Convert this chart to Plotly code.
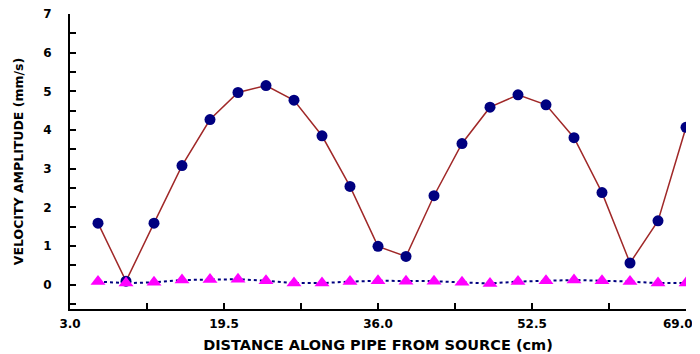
import plotly.graph_objects as go

distance = [6, 9, 12, 15, 18, 21, 24, 27, 30, 33, 36, 39, 42, 45, 48, 51, 54, 57, 60, 63, 66, 69]
amp_circle = [1.59, 0.09, 1.59, 3.08, 4.27, 4.97, 5.15, 4.77, 3.85, 2.54, 0.99, 0.73,
              2.30, 3.65, 4.59, 4.91, 4.65, 3.80, 2.38, 0.56, 1.65, 4.07]
amp_triangle = [0.08, 0.04, 0.06, 0.12, 0.13, 0.14, 0.10, 0.04, 0.04, 0.08, 0.10, 0.09,
                0.09, 0.06, 0.03, 0.08, 0.10, 0.12, 0.10, 0.08, 0.04, 0.04]
x_ticks = [3.0, 19.5, 36.0, 52.5, 69.0]
x_tick_labels = ["3.0", "19.5", "36.0", "52.5", "69.0"]
y_ticks = [0, 1, 2, 3, 4, 5, 6, 7]

font_family = "DejaVu Sans, sans-serif"
tick_font = dict(family=font_family, size=12, weight="bold", color="black")

fig = go.Figure()
fig.add_trace(go.Scatter(
    x=distance, y=amp_circle, mode="lines+markers",
    line=dict(color="#a02828", width=1.5),
    marker=dict(symbol="circle", size=11, color="#000080"),
    showlegend=False,
))
fig.add_trace(go.Scatter(
    x=distance, y=amp_triangle, mode="lines+markers",
    line=dict(color="#000080", width=2, dash="dot"),
    marker=dict(symbol="triangle-up", size=13, color="#ff00ff"),
    showlegend=False,
))

# the page has an 8px body margin; margins are set so the plot lands where the reference has it
fig.update_layout(
    width=700, height=354,
    margin=dict(l=62, r=22, t=6, b=53),
    paper_bgcolor="white", plot_bgcolor="white",
    font=dict(family=font_family, size=12, color="black", weight="bold"),
)
# last tick label sits left-aligned against the window edge, as in the reference
fig.update_xaxes(
    automargin=False,
    range=[3, 69], tickvals=x_ticks, ticktext=x_tick_labels[:-1] + [""],
    ticks="inside", ticklen=6, tickwidth=1.5, tickcolor="black",
    minor=dict(dtick=8.25, tick0=3, ticks="inside", ticklen=6, tickwidth=1.5, tickcolor="black"),
    showline=True, linecolor="black", linewidth=2, showgrid=False, zeroline=False,
    ticklabelstandoff=3, ticklabeloverflow="allow",
    title=dict(text="DISTANCE ALONG PIPE FROM SOURCE (cm)", standoff=9,
               font=dict(family=font_family, size=14.5, weight="bold")),
    tickfont=tick_font,
)
fig.add_annotation(
    x=x_ticks[-1], xref="x", y=0, yref="paper",
    text=x_tick_labels[-1], showarrow=False,
    xanchor="right", yanchor="middle", xshift=9, yshift=-15,
    font=tick_font,
)
fig.update_yaxes(
    automargin=False,
    range=[-0.63, 7], tickvals=y_ticks,
    ticks="inside", ticklen=6, tickwidth=1.5, tickcolor="black",
    minor=dict(dtick=0.5, tick0=0, ticks="inside", ticklen=6, tickwidth=1.5, tickcolor="black"),
    showline=True, linecolor="black", linewidth=2, showgrid=False, zeroline=False,
    ticklabelstandoff=14, ticklabeloverflow="allow",
    title=dict(text="VELOCITY AMPLITUDE (mm/s)", standoff=17,
               font=dict(family=font_family, size=12.5, weight="bold")),
    tickfont=tick_font,
)

fig.write_html("out.html")
